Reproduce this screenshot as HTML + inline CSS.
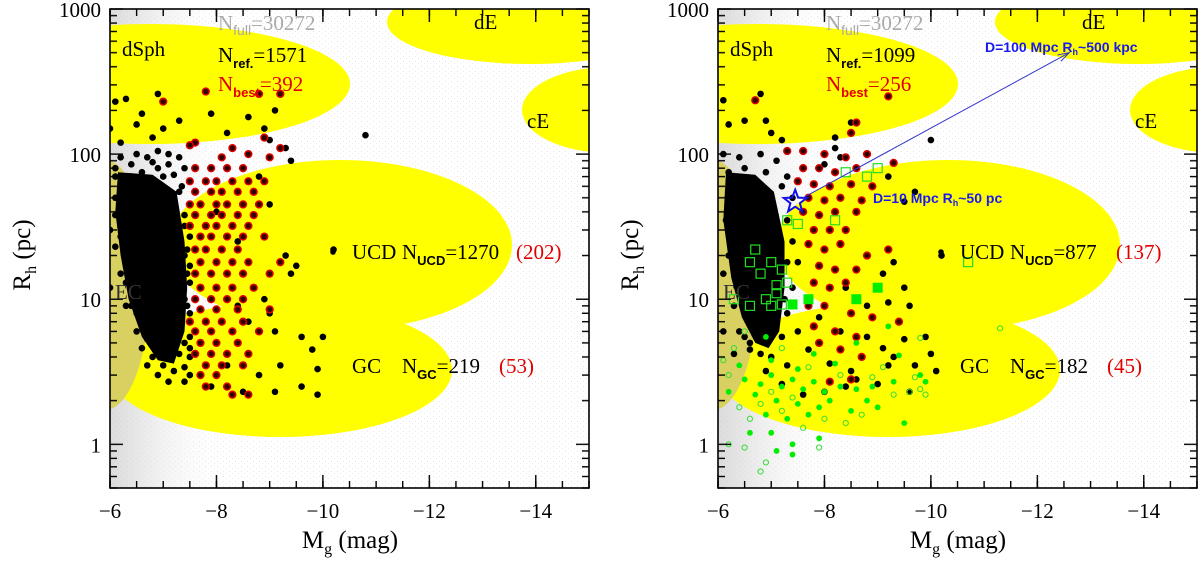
<!DOCTYPE html>
<html><head><meta charset="utf-8">
<style>
html,body{margin:0;padding:0;background:#fff;}
svg{display:block;}
text{font-family:"Liberation Serif","DejaVu Serif",serif;}
.sans{font-family:"Liberation Sans","DejaVu Sans",sans-serif;}
</style></head>
<body>
<svg id="chart" width="1200" height="563" viewBox="0 0 1200 563" xmlns="http://www.w3.org/2000/svg">
<defs>
<clipPath id="clipL"><rect x="110" y="9" width="479" height="479"/></clipPath>
<clipPath id="clipR"><rect x="718" y="9" width="479" height="479"/></clipPath>
<linearGradient id="grayband" x1="0" x2="1" y1="0" y2="0">
<stop offset="0" stop-color="#c4c4c4"/><stop offset="0.3" stop-color="#dedede"/><stop offset="1" stop-color="#ffffff" stop-opacity="0"/>
</linearGradient>
<pattern id="stipple" width="6" height="5" patternUnits="userSpaceOnUse">
<rect x="1" y="1" width="1" height="1" fill="#bbb"/><rect x="4" y="3" width="1" height="1" fill="#ccc"/>
</pattern>
<pattern id="xminL" x="109.3" y="0" width="26.611" height="600" patternUnits="userSpaceOnUse"><rect x="0" y="0" width="1.4" height="600" fill="#000"/></pattern>
<pattern id="xmajL" x="109.3" y="0" width="106.444" height="600" patternUnits="userSpaceOnUse"><rect x="0" y="0" width="1.4" height="600" fill="#000"/></pattern>
<pattern id="xminR" x="717.3" y="0" width="26.611" height="600" patternUnits="userSpaceOnUse"><rect x="0" y="0" width="1.4" height="600" fill="#000"/></pattern>
<pattern id="xmajR" x="717.3" y="0" width="106.444" height="600" patternUnits="userSpaceOnUse"><rect x="0" y="0" width="1.4" height="600" fill="#000"/></pattern>
<pattern id="yL" x="110" y="8.3" width="1200" height="145.11" patternUnits="userSpaceOnUse">
<rect x="0" y="0" width="13" height="1.4" fill="#000"/><rect x="0" y="6.64" width="7" height="1.4" fill="#000"/><rect x="0" y="14.06" width="7" height="1.4" fill="#000"/><rect x="0" y="22.48" width="7" height="1.4" fill="#000"/><rect x="0" y="32.19" width="7" height="1.4" fill="#000"/><rect x="0" y="43.68" width="7" height="1.4" fill="#000"/><rect x="0" y="57.75" width="7" height="1.4" fill="#000"/><rect x="0" y="75.87" width="7" height="1.4" fill="#000"/><rect x="0" y="101.43" width="7" height="1.4" fill="#000"/>
</pattern>
<pattern id="yLr" x="576" y="8.3" width="1200" height="145.11" patternUnits="userSpaceOnUse">
<rect x="0" y="0" width="13" height="1.4" fill="#000"/><rect x="6" y="6.64" width="7" height="1.4" fill="#000"/><rect x="6" y="14.06" width="7" height="1.4" fill="#000"/><rect x="6" y="22.48" width="7" height="1.4" fill="#000"/><rect x="6" y="32.19" width="7" height="1.4" fill="#000"/><rect x="6" y="43.68" width="7" height="1.4" fill="#000"/><rect x="6" y="57.75" width="7" height="1.4" fill="#000"/><rect x="6" y="75.87" width="7" height="1.4" fill="#000"/><rect x="6" y="101.43" width="7" height="1.4" fill="#000"/>
</pattern>
<pattern id="yR" x="718" y="8.3" width="1200" height="145.11" patternUnits="userSpaceOnUse">
<rect x="0" y="0" width="13" height="1.4" fill="#000"/><rect x="0" y="6.64" width="7" height="1.4" fill="#000"/><rect x="0" y="14.06" width="7" height="1.4" fill="#000"/><rect x="0" y="22.48" width="7" height="1.4" fill="#000"/><rect x="0" y="32.19" width="7" height="1.4" fill="#000"/><rect x="0" y="43.68" width="7" height="1.4" fill="#000"/><rect x="0" y="57.75" width="7" height="1.4" fill="#000"/><rect x="0" y="75.87" width="7" height="1.4" fill="#000"/><rect x="0" y="101.43" width="7" height="1.4" fill="#000"/>
</pattern>
<pattern id="yRr" x="1184" y="8.3" width="1200" height="145.11" patternUnits="userSpaceOnUse">
<rect x="0" y="0" width="13" height="1.4" fill="#000"/><rect x="6" y="6.64" width="7" height="1.4" fill="#000"/><rect x="6" y="14.06" width="7" height="1.4" fill="#000"/><rect x="6" y="22.48" width="7" height="1.4" fill="#000"/><rect x="6" y="32.19" width="7" height="1.4" fill="#000"/><rect x="6" y="43.68" width="7" height="1.4" fill="#000"/><rect x="6" y="57.75" width="7" height="1.4" fill="#000"/><rect x="6" y="75.87" width="7" height="1.4" fill="#000"/><rect x="6" y="101.43" width="7" height="1.4" fill="#000"/>
</pattern>
</defs>
</svg>
<script>
// ---- data (Mg in mag, Rh in pc) ----
const xTicks = [-6, -8, -10, -12, -14];
const yTicks = [1000, 100, 10, 1];
const leftCounts = {full: "30272", ref: "1571", best: "392", ucd: "1270", ucdBest: "(202)", gc: "219", gcBest: "(53)"};
const rightCounts = {full: "30272", ref: "1099", best: "256", ucd: "877", ucdBest: "(137)", gc: "182", gcBest: "(45)"};

const leftCore = [[-6.15,75],[-6.8,72],[-7.25,55],[-7.4,25],[-7.45,12],[-7.4,6],[-7.2,3.6],[-6.9,3.8],[-6.6,5.5],[-6.35,10],[-6.2,20],[-6.1,40]];
const leftBlack = [[-6.1,230],[-6.3,240],[-6.5,160],[-6.6,190],[-6.9,260],[-7.0,150],[-7.3,170],[-7.6,120],[-7.9,190],[-8.6,180],[-8.9,150],[-9.1,200],[-9.3,110],[-9.4,90],[-10.8,135],[-6.0,150],[-6.2,120],[-6.8,130],[-8.2,140],[-9.0,125],
[-6.2,95],[-6.5,100],[-6.7,95],[-6.9,105],[-7.1,100],[-7.3,95],[-7.4,80],[-6.4,85],[-6.1,80],[-6.6,75],[-6.9,80],[-7.2,72],
[-6.1,70],[-6.4,70],[-7.0,70],[-7.3,55],[-7.5,45],[-6.1,38],[-7.4,32],[-7.5,27],[-6.1,23],[-7.4,20],[-7.5,17],[-6.3,17],[-6.4,15],[-7.5,13],[-6.3,13],[-6.4,11],[-6.5,10],[-7.4,10],[-6.4,9],[-7.5,8],[-6.5,8],[-6.6,7],[-7.5,7],[-6.5,6],[-7.5,5.5],[-6.7,5.3],[-6.6,4.6],[-7.5,4.6],[-6.8,4],[-7.5,4],[-6.7,3.5],[-7.4,3.4],[-6.9,3],[-7.5,3],[-7.1,2.7],[-7.4,2.7],[-6.0,30],[-6.0,12],[-6.1,50],
[-6.2,60],[-6.3,50],[-6.2,42],[-6.3,33],[-6.2,27],[-6.3,20],[-6.2,15],[-6.4,19],[-6.5,14],[-6.3,9],[-6.6,8.5],[-6.7,6],[-6.8,5],[-7.0,3.5],[-7.2,3.2],[-7.3,4.2],[-7.4,5],[-7.45,9],[-7.45,15],[-7.45,22],[-7.4,38],[-7.35,60],[-7.1,85],[-6.8,88],
[-8.0,40],[-8.4,25],[-8.8,70],[-9.0,45],[-9.3,20],[-9.5,17],[-8.9,10],[-9.4,15],[-8.7,12],[-9.0,8],[-9.6,5.5],[-10.0,5.5],[-9.8,4.5],[-9.2,3.5],[-8.8,3.0],[-9.6,2.5],[-9.9,2.2],[-9.1,2.3],[-8.5,2.3],[-10.2,22],[-8.2,3.5],[-7.9,2.5],[-9.9,3.3],[-8.6,7],[-9.1,6],[-8.4,9]];
const leftRed = [[-7.8,270],[-8.8,260],[-9.2,260],[-7.0,230],[-7.6,120],[-8.3,110],[-8.6,100],[-8.1,95],[-9.0,95],[-9.2,110],[-7.5,115],[-8.9,130],
[-7.6,80],[-7.9,80],[-8.2,80],[-8.5,80],[-7.5,65],[-7.8,65],[-8.0,65],[-8.3,65],[-8.6,65],[-8.9,65],[-7.6,55],[-7.9,55],[-8.1,55],[-8.4,55],[-8.7,55],
[-7.5,45],[-7.7,45],[-8.0,45],[-8.2,45],[-8.5,45],[-8.8,45],[-7.6,38],[-7.9,38],[-8.1,38],[-8.4,38],[-8.7,38],[-7.5,32],[-7.8,32],[-8.0,32],[-8.3,32],[-8.6,32],
[-7.7,27],[-7.9,27],[-8.2,27],[-8.5,27],[-8.9,27],[-7.6,22],[-7.8,22],[-8.1,22],[-8.4,22],[-7.7,18],[-8.0,18],[-8.3,18],[-8.6,18],[-9.2,18],
[-7.6,15],[-7.9,15],[-8.2,15],[-8.5,15],[-9.0,15],[-7.7,12],[-8.0,12],[-8.3,12],[-8.7,12],[-7.6,10],[-7.9,10],[-8.2,10],[-8.5,10],
[-7.7,8.5],[-8.0,8.5],[-8.4,8.5],[-9.0,8.5],[-7.5,7],[-7.8,7],[-8.1,7],[-8.5,7],[-7.6,6],[-7.9,6],[-8.3,6],[-8.8,6],[-7.7,5],[-8.0,5],[-8.4,5],
[-7.6,4.2],[-7.9,4.2],[-8.2,4.2],[-8.6,4.2],[-7.8,3.5],[-8.1,3.5],[-8.5,3.5],[-7.7,3],[-8.0,3],[-7.8,2.5],[-8.2,2.5],[-8.3,2.2],[-8.6,2.2]];

const rightCore = [[-6.15,75],[-6.7,72],[-7.05,55],[-7.25,25],[-7.25,12],[-7.15,6],[-6.95,4.6],[-6.7,5],[-6.45,7.5],[-6.25,14],[-6.1,35]];
const rightBlack = [[-6.1,235],[-6.8,260],[-6.2,160],[-6.5,170],[-6.9,170],[-7.2,125],[-8.2,110],[-8.5,165],[-8.2,130],[-10.0,125],[-7.0,140],[-9.7,55],[-9.2,70],[-9.5,47],[-10.2,20],[-9.3,18],[-9.1,15],[-9.5,12],[-8.4,12],[-8.8,9],[-9.2,9.5],[-9.6,9],[-9.9,5.5],[-10.0,4.2],[-9.5,5.3],[-9.3,4.0],[-9.2,3.5],[-8.6,2.8],[-9.0,2.6],[-9.7,3.5],[-9.6,2.3],[-8.4,2.5],[-8.0,2.3],[-7.6,2.2],[-7.2,2.6],[-6.9,3.2],[-7.0,4],[-6.6,5],[-8.8,5.5],[-9.1,4.6],[-8.3,6],[-7.9,7.5],[-7.7,4.5],[-8.1,3.6],[-8.5,3.2],[-10.1,3.2],
[-6.1,100],[-6.4,95],[-6.8,100],[-7.1,90],[-7.3,70],[-7.4,50],[-7.4,25],[-7.4,12],[-7.3,8],[-6.2,45],[-6.1,15],[-6.4,6],[-6.6,4.5],[-7.3,3.5],[-7.5,6],[-7.5,18],[-8.0,85],[-8.3,95],
[-6.2,75],[-6.5,80],[-6.9,75],[-7.2,60],[-7.3,35],[-7.3,18],[-7.25,10],[-7.2,5.5],[-6.8,4.2],[-6.5,5.5],[-6.3,9],[-6.2,20],[-6.15,35],[-6.3,4.2],[-6.1,6]];
const rightRed = [[-6.7,235],[-9.2,250],[-8.6,165],[-8.5,140],[-9.3,87],[-7.3,105],[-7.6,105],[-8.0,100],[-8.4,95],[-8.8,100],
[-7.6,80],[-7.9,80],[-8.2,75],[-8.6,80],[-7.5,65],[-7.8,62],[-8.1,60],[-8.5,62],[-8.9,60],[-7.7,50],[-8.0,48],[-8.3,50],[-8.7,48],
[-7.6,40],[-7.9,38],[-8.2,40],[-8.6,40],[-7.8,30],[-8.1,30],[-8.4,30],[-7.7,24],[-8.0,22],[-8.3,24],[-8.8,20],[-7.9,17],[-8.2,16],[-8.6,16],[-9.2,22],
[-7.8,13],[-8.1,12],[-8.4,13],[-7.7,9],[-8.0,9],[-8.5,8],[-8.9,7.5],[-7.8,6.5],[-8.2,6],[-8.6,5.5],[-7.9,5],[-8.3,4.5],[-8.7,4],[-8.1,2.7],[-8.5,2.8],[-9.4,7]];
const greenFilled = [[-6.5,2.8],[-6.8,2.6],[-7.0,3.0],[-7.2,2.5],[-7.4,2.8],[-7.6,2.4],[-7.8,2.7],[-8.0,2.3],[-8.3,2.5],[-8.6,2.4],[-8.9,2.5],[-9.3,2.7],[-9.8,3.0],[-9.9,2.7],[-7.1,2.0],[-7.5,1.9],[-7.9,1.8],[-8.5,1.7],[-9.0,1.8],[-9.5,1.4],[-6.9,1.6],[-7.3,1.5],[-7.7,1.6],[-6.6,1.2],[-7.0,1.2],[-7.4,1.0],[-7.9,1.1],[-7.4,0.85],[-7.1,0.9],[-6.4,3.5],[-7.0,3.8],[-7.8,4.2],[-8.6,5],[-9.2,6.5],[-6.9,5.5],[-7.5,3.3],[-8.2,3.6],[-9.4,4.1],[-6.7,2.2],[-8.1,2.0],[-8.8,2.0],[-6.2,2.3]];
const greenOpen = [[-6.1,3.8],[-6.3,4.6],[-6.2,3.0],[-6.4,1.8],[-6.6,1.5],[-6.8,1.9],[-7.2,1.7],[-7.6,1.3],[-7.9,0.95],[-6.9,0.75],[-6.8,0.65],[-6.5,0.95],[-6.2,1.0],[-7.0,2.3],[-7.4,2.1],[-8.0,1.5],[-8.4,1.4],[-8.7,1.6],[-9.3,2.2],[-9.6,2.3],[-9.8,2.4],[-9.9,2.2],[-9.7,2.9],[-9.1,3.4],[-8.3,3.0],[-8.9,2.9],[-11.3,6.3],[-9.8,5.4],[-6.5,6],[-7.2,4.6],[-7.7,3.4]];
const greenSquares = [[-6.6,18],[-6.7,22],[-7.0,18],[-6.8,15],[-7.2,16],[-7.1,11],[-6.9,10],[-6.3,10],[-6.6,9],[-7.2,9.2],[-7.0,9.0],[-8.4,75],[-9.0,80],[-8.8,70],[-7.3,35],[-7.5,33],[-8.2,35],[-10.7,18],[-7.1,12.5],[-7.3,13]];
const greenBigSquares = [[-7.4,9.2],[-7.7,10],[-8.6,10],[-9.0,12]];
const starPos = [-7.45, 47];
const arrowEnd = [-12.6, 500];

// ---- axes ----
const TOP = 9, BOT = 488, W = 479;
function xs(mg, x0){ return x0 + (-mg - 6) / 9 * W; }
function ys(rh){ return TOP + (3 - Math.log10(rh)) / (3 - Math.log10(0.5)) * (BOT - TOP); }

const NS = "http://www.w3.org/2000/svg";
const svg = document.getElementById("chart");
function mk(tag, attrs, parent){
  const e = document.createElementNS(NS, tag);
  for (const k in attrs) e.setAttribute(k, attrs[k]);
  (parent || svg).appendChild(e);
  return e;
}

function panel(x0, side, blackPts, redPts, core, counts, clipId){
  const g = mk("g", {"clip-path": "url(#" + clipId + ")"});
  
  
  const st = mk("rect", {x: x0, y: TOP, width: W, height: BOT - TOP, fill: "url(#stipple)", opacity: 0.35}, g);
  
  
  const band = mk("rect", {x: x0, y: TOP, width: 120, height: BOT - TOP, fill: "url(#grayband)", opacity: 0.6}, g);
  
  
  const regions = [["dsph-region", 40, 84, 200, 60], ["de-region", 420, 22, 143, 42], ["ce-region", 500, 110, 88, 43], ["ucd-region", 230, 245, 172, 85], ["gc-region", 170, 370, 172, 67]];
  regions.forEach(r => {
    const e = mk("ellipse", {cx: x0 + r[1], cy: r[2], rx: r[3], ry: r[4], fill: "#ffff00"}, g);
    
    
  });
  const ec = mk("ellipse", {cx: x0 - 5, cy: 285, rx: 45, ry: 125, fill: "#d8d060"}, g);
  
  
  const poly = mk("polygon", {points: core.map(p => xs(p[0], x0) + "," + ys(p[1])).join(" "), fill: "#000"}, g);
  
  
  blackPts.forEach(p => {
    const c = mk("circle", {cx: xs(p[0], x0), cy: ys(p[1]), r: 3.3, fill: "#000"}, g);
    
    
  });
  redPts.forEach(p => {
    const c = mk("circle", {cx: xs(p[0], x0), cy: ys(p[1]), r: 3.4, fill: "#300000", stroke: "#e00000", "stroke-width": 1.5}, g);
    
    
  });
  return g;
}

function tickBand(x, y, w, h, fill, name){
  const r = mk("rect", {x: x, y: y, width: w, height: h, fill: fill});
  
  
}

function frame(x0, side){
  const s = side === "left" ? "L" : "R";
  tickBand(x0 - 1, BOT - 7, W + 2, 7, "url(#xmin" + s + ")", "x-minor-ticks-bottom");
  tickBand(x0 - 1, BOT - 13, W + 2, 13, "url(#xmaj" + s + ")", "x-major-ticks-bottom");
  tickBand(x0 - 1, TOP, W + 2, 7, "url(#xmin" + s + ")", "x-minor-ticks-top");
  tickBand(x0 - 1, TOP, W + 2, 13, "url(#xmaj" + s + ")", "x-major-ticks-top");
  tickBand(x0, TOP - 1, 13, BOT - TOP + 2, "url(#y" + s + ")", "y-ticks-left");
  tickBand(x0 + W - 13, TOP - 1, 13, BOT - TOP + 2, "url(#y" + s + "r)", "y-ticks-right");
  const f = mk("rect", {x: x0, y: TOP, width: W, height: BOT - TOP, fill: "none", stroke: "#000", "stroke-width": 1.6});
  
  
  xTicks.forEach(v => {
    const t = mk("text", {x: xs(v, x0), y: BOT + 30, "font-size": 21, "text-anchor": "middle"});
    t.textContent = "\u2212" + Math.abs(v);
    
    
  });
  yTicks.forEach(v => {
    const t = mk("text", {x: x0 - 9, y: ys(v) + 8, "font-size": 21, "text-anchor": "end"});
    t.textContent = String(v);
    
    
  });
  const xt = mk("text", {x: x0 + 240, y: 548, "font-size": 25, "text-anchor": "middle"});
  xt.innerHTML = 'M<tspan font-size="16" dy="6">g</tspan><tspan dy="-6"> (mag)</tspan>';
  
  
  const yt = mk("text", {x: 0, y: 0, "font-size": 25, "text-anchor": "middle", transform: "translate(" + (x0 - 80) + ",255) rotate(-90)"});
  yt.innerHTML = 'R<tspan font-size="16" dy="6">h</tspan><tspan dy="-6"> (pc)</tspan>';
  
  
}

function labels(x0, counts){
  function txt(name, x, y, size, fill, html){
    const t = mk("text", {x: x0 + x, y: y, "font-size": size, fill: fill});
    t.innerHTML = html;
    
    
    return t;
  }
  txt('dsph-label', 12, 56, 21, "#000", "dSph");
  txt('de-label', 364, 29, 21, "#000", "dE");
  txt('ce-label', 417, 128, 21, "#000", "cE");
  txt('ec-label', 5, 299, 21, "#333", "EC");
  txt('n-full-label', 108, 30, 21, "#aaaaaa", 'N<tspan class="sans" font-size="14" dy="5">full</tspan><tspan dy="-5">=' + counts.full + '</tspan>');
  txt('n-ref-label', 108, 62, 21, "#000", 'N<tspan class="sans" font-weight="bold" font-size="13" dy="6">ref.</tspan><tspan dy="-6">=' + counts.ref + '</tspan>');
  txt('n-best-label', 108, 91, 21, "#e00000", 'N<tspan class="sans" font-weight="bold" font-size="13" dy="6">best</tspan><tspan dy="-6">=' + counts.best + '</tspan>');
  const d1 = mk("circle", {cx: x0 + 223, cy: 252, r: 2.8, fill: "#000"});
  
  
  txt('ucd-label', 242, 259, 21, "#000", "UCD");
  txt('n-ucd-label', 292, 259, 21, "#000", 'N<tspan class="sans" font-weight="bold" font-size="13" dy="6">UCD</tspan><tspan dy="-6">=' + counts.ucd + '</tspan>');
  txt('n-ucd-best-label', counts.ucd.length > 3 ? 406 : 398, 259, 21, "#e00000", counts.ucdBest);
  txt('gc-label', 242, 373, 21, "#000", "GC");
  txt('n-gc-label', 292, 373, 21, "#000", 'N<tspan class="sans" font-weight="bold" font-size="13" dy="6">GC</tspan><tspan dy="-6">=' + counts.gc + '</tspan>');
  txt('n-gc-best-label', 389, 373, 21, "#e00000", counts.gcBest);
}

const LX = 110, RX = 718;
panel(LX, "left", leftBlack, leftRed, leftCore, leftCounts, "clipL");
const gR = panel(RX, "right", rightBlack, rightRed, rightCore, rightCounts, "clipR");

greenOpen.forEach(p => {
  const c = mk("circle", {cx: xs(p[0], RX), cy: ys(p[1]), r: 2.6, fill: "none", stroke: "#33dd33", "stroke-width": 1}, gR);
  
  
});
greenFilled.forEach(p => {
  const c = mk("circle", {cx: xs(p[0], RX), cy: ys(p[1]), r: 2.9, fill: "#00ee00"}, gR);
  
  
});
greenSquares.forEach(p => {
  const c = mk("rect", {x: xs(p[0], RX) - 4.5, y: ys(p[1]) - 4.5, width: 9, height: 9, fill: "none", stroke: "#22dd22", "stroke-width": 1.2}, gR);
  
  
});
greenBigSquares.forEach(p => {
  const c = mk("rect", {x: xs(p[0], RX) - 5, y: ys(p[1]) - 5, width: 10, height: 10, fill: "#00ee00"}, gR);
  
  
});
(function(){
  const cx = xs(starPos[0], RX), cy = ys(starPos[1]);
  let pts = [];
  for (let i = 0; i < 10; i++){
    const a = -Math.PI / 2 + i * Math.PI / 5, r = i % 2 ? 5 : 12;
    pts.push((cx + r * Math.cos(a)).toFixed(1) + "," + (cy + r * Math.sin(a)).toFixed(1));
  }
  const s = mk("polygon", {points: pts.join(" "), fill: "none", stroke: "#1010ee", "stroke-width": 2}, gR);
  
  
  const ex = xs(arrowEnd[0], RX), ey = ys(arrowEnd[1]);
  const l = mk("line", {x1: cx + 8, y1: cy - 4, x2: ex, y2: ey, stroke: "#3333cc", "stroke-width": 1});
  
  
  const ang = Math.atan2(ey - cy, ex - cx);
  const h1 = [ex - 12 * Math.cos(ang - 0.3), ey - 12 * Math.sin(ang - 0.3)];
  const h2 = [ex - 12 * Math.cos(ang + 0.3), ey - 12 * Math.sin(ang + 0.3)];
  const ah = mk("polyline", {points: h1.join(",") + " " + ex + "," + ey + " " + h2.join(","), fill: "none", stroke: "#3333cc", "stroke-width": 1});
  
  
})();

frame(LX, "left");
frame(RX, "right");
labels(LX, leftCounts);
labels(RX, rightCounts);

const b1 = mk("text", {x: 873, y: 203, "font-size": 14, fill: "#1a1aee", "font-weight": "bold", class: "sans"});
b1.innerHTML = 'D=10 Mpc R<tspan font-size="9" dy="3">h</tspan><tspan dy="-3">~50 pc</tspan>';


const b2 = mk("text", {x: 985, y: 52, "font-size": 14, fill: "#1a1aee", "font-weight": "bold", class: "sans"});
b2.innerHTML = 'D=100 Mpc R<tspan font-size="9" dy="3">h</tspan><tspan dy="-3">~500 kpc</tspan>';


</script>
</body></html>
